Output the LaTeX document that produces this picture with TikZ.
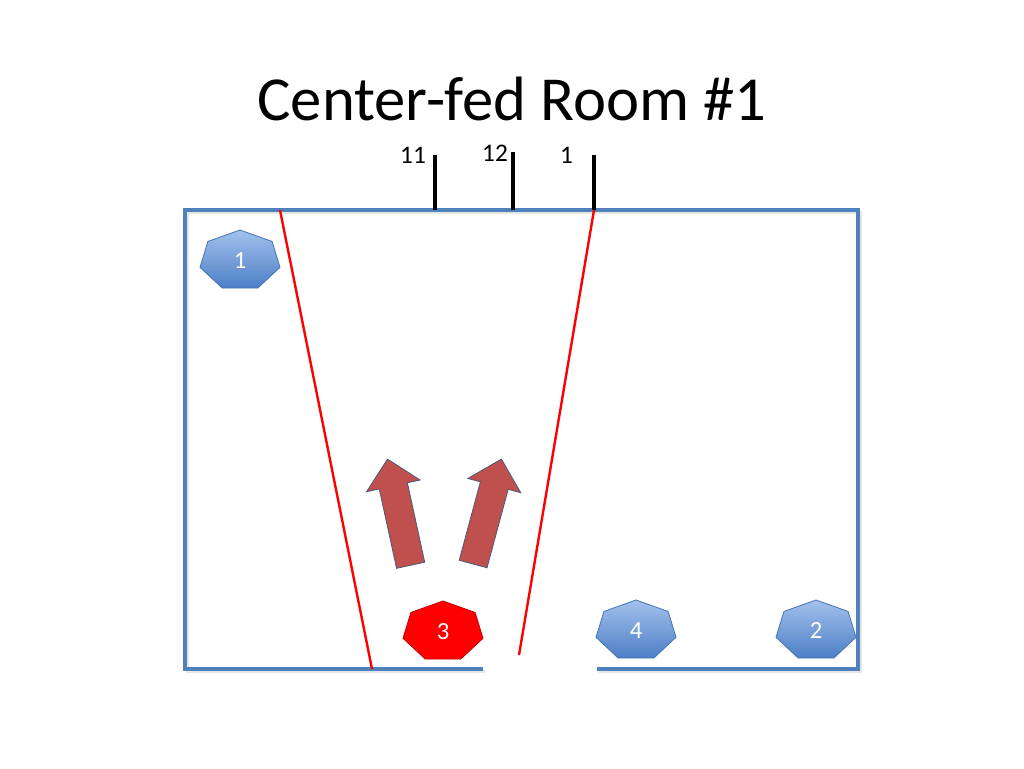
\documentclass[tikz,border=0pt]{standalone}
\usepackage{fontspec}
\setmainfont{Carlito}
\usepackage{tikz}
\usetikzlibrary{shapes.geometric}
\usetikzlibrary{shapes.arrows}

\definecolor{wallblue}{HTML}{4F81BD}
\definecolor{heptop}{HTML}{A3C1EC}
\definecolor{heptbot}{HTML}{4D7FC6}
\definecolor{heptedge}{HTML}{4472B8}
\definecolor{flowred}{HTML}{C0504D}
\definecolor{flowedge}{HTML}{4A5A7A}

\begin{document}
\begin{tikzpicture}[x=0.75pt,y=-0.75pt,
  wall/.style={draw=wallblue, line width=2.3pt},
  wallshade/.style={draw=black!10, line width=2.3pt},
  ray/.style={draw=red, line width=1.8pt},
  tickline/.style={draw=black, line width=2.3pt},
  hept/.style={regular polygon, regular polygon sides=7, minimum size=45.8pt,
               inner sep=0pt, xscale=1.344, transform shape,
               draw=heptedge, line width=0.6pt, top color=heptop, bottom color=heptbot},
  num/.style={text=white, font=\fontsize{18.5}{18.5}\selectfont},
  hour/.style={anchor=base, font=\fontsize{19}{19}\selectfont},
  flow/.style={single arrow, single arrow head extend=9.75pt,
               minimum height=81.5pt, inner xsep=0pt, inner ysep=10.5pt,
               fill=flowred, draw=flowedge, line width=0.6pt}]
\useasboundingbox[fill=white] (0,0) rectangle (1024,768);

% title
\node[anchor=base, font=\fontsize{47}{47}\selectfont] (title) at (512,120) {Center-fed Room \#1};

% room walls
\draw[wallshade] (485,671.5) -- (187.5,671.5) -- (187.5,212.5) -- (860.5,212.5) -- (860.5,671.5) -- (599,671.5);
\draw[wall] (483,669) -- (185,669) -- (185,210) -- (858,210) -- (858,669) -- (597,669);

% clock ticks
\draw[tickline] (435,155) -- (435,210);
\draw[tickline] (513,152) -- (513,210);
\draw[tickline] (594,155) -- (594,210);
\node[hour] (h11) at (413,163.3) {11};
\node[hour] (h12) at (495,161.7) {12};
\node[hour] (h1)  at (566.5,163.3) {1};

% coverage edges
\draw[ray] (280,210) -- (372,669);
\draw[ray] (594,210) -- (519,655);

% flow arrows
\node[flow, rotate=102.3] (fl) at (400.6,519.2) {};
\node[flow, rotate=74.9]  (fr) at (485.4,518.5) {};

% speakers
\node[hept] (p1) at (240,260.5) {};
\node[hept, top color=red, bottom color=red, draw=red!75!black] (p3) at (443,631.5) {};
\node[hept] (p4) at (636,630.5) {};
\node[hept] (p2) at (816,630.5) {};
\node[num] (n1) at (p1) {1};
\node[num] (n3) at (p3) {3};
\node[num] (n4) at (p4) {4};
\node[num] (n2) at (p2) {2};
\end{tikzpicture}
\end{document}
